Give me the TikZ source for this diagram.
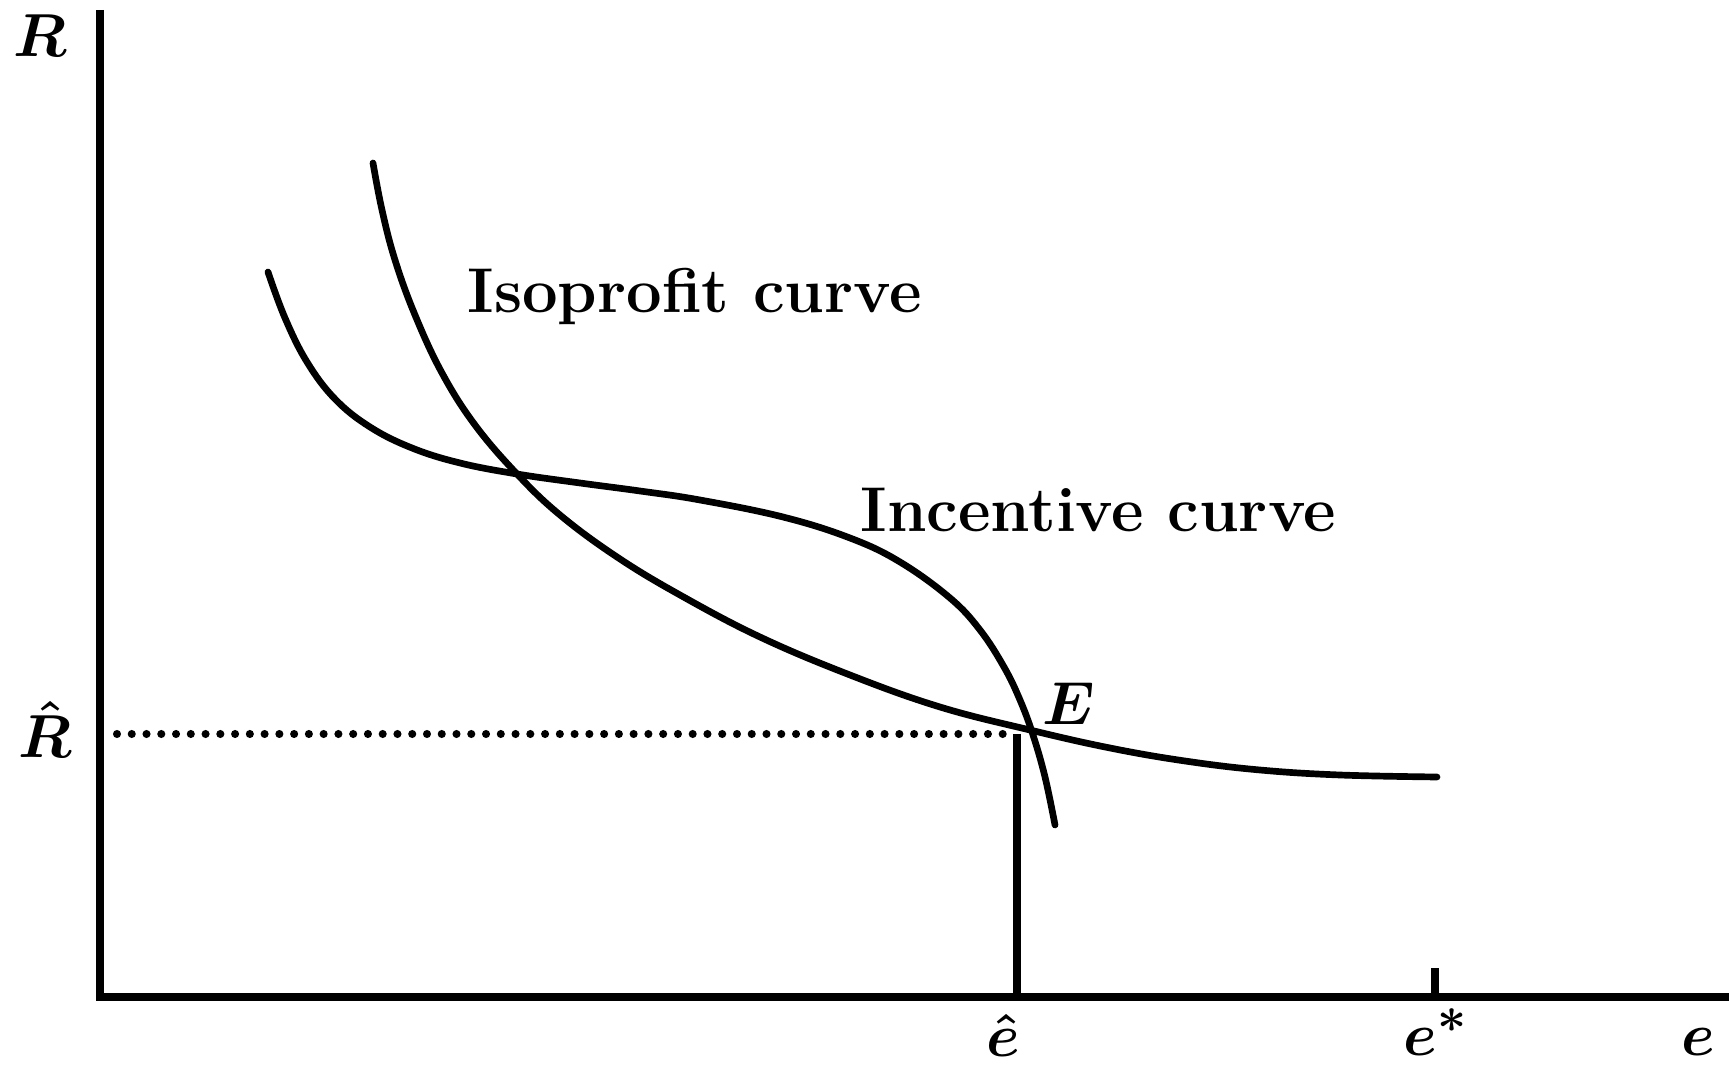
\documentclass[tikz,border=0pt]{standalone}
\usepackage{amsmath}
\usepackage{tikz}
\usetikzlibrary{calc,positioning}
\tikzset{
  axline/.style={line width=2.1pt,black},
  crv/.style={line width=1.9pt,black,smooth,tension=0.65,line cap=round},
  guide/.style={line width=2.1pt,black},
  dotline/.style={line width=2.3pt,line cap=round,dash pattern=on 0pt off 4.2pt},
  lab/.style={font=\fontsize{18}{22}\selectfont\bfseries,inner sep=0pt},
  sym/.style={font=\fontsize{19}{22}\selectfont\boldmath,inner sep=0pt},
}
\begin{document}
\begin{tikzpicture}
  \useasboundingbox (0,0) rectangle (17.29,10.65);
  \coordinate (O) at (1.00,0.68);
  \coordinate (ytop) at (1.00,10.55);
  \coordinate (xend) at (17.29,0.68);
  \coordinate (Rh) at (1.17,3.31);
  \coordinate (Eh) at (10.17,3.31);
  \coordinate (eh) at (10.17,0.68);
  \coordinate (es) at (14.35,0.68);
  \draw[axline] (ytop) -- (O) -- (xend);
  \draw[axline] (es) -- ++(0,0.29);
  \draw[dotline] (Rh) -- (Eh);
  \draw[guide] (Eh) -- (eh);
  % incentive curve
  \draw[crv] plot coordinates {(2.68,7.93)(2.85,7.47)(3.07,7.03)(3.35,6.66)(3.70,6.38)
     (4.12,6.17)(4.60,6.02)(5.17,5.91)(5.80,5.82)(6.40,5.74)(7.00,5.65)(7.83,5.48)
     (8.50,5.27)(9.00,5.03)(9.50,4.67)(9.80,4.35)(10.04,3.98)(10.20,3.65)(10.33,3.30)
     (10.45,2.88)(10.55,2.40)};
  % isoprofit curve
  \draw[crv] plot coordinates {(3.73,9.02)(3.82,8.55)(3.95,8.05)(4.15,7.50)(4.42,6.92)
     (4.75,6.40)(5.17,5.91)(5.60,5.50)(6.17,5.08)(6.80,4.70)(7.60,4.28)(8.50,3.90)
     (9.40,3.58)(10.30,3.35)(11.10,3.17)(11.85,3.04)(12.60,2.95)(13.40,2.90)(14.37,2.88)};
  \node[lab,anchor=base west] (iso) at (4.67,7.52) {Isoprofit curve};
  \node[lab,anchor=base west] (inc) at (8.60,5.33) {Incentive curve};
  \node[sym,anchor=base] (Rlab) at (0.40,10.08) {$R$};
  \node[sym,anchor=base] (Rhlab) at (0.45,3.07) {$\hat{R}$};
  \node[sym,anchor=base west] (Elab) at (10.42,3.40) {$E$};
  \node[sym,anchor=base] (ehlab) at (10.03,0.09) {$\hat{e}$};
  \node[sym,anchor=base west] (eslab) at (14.03,0.10) {$e^{*}$};
  \node[sym,anchor=base] (elab) at (16.98,0.10) {$e$};
\end{tikzpicture}
\end{document}
